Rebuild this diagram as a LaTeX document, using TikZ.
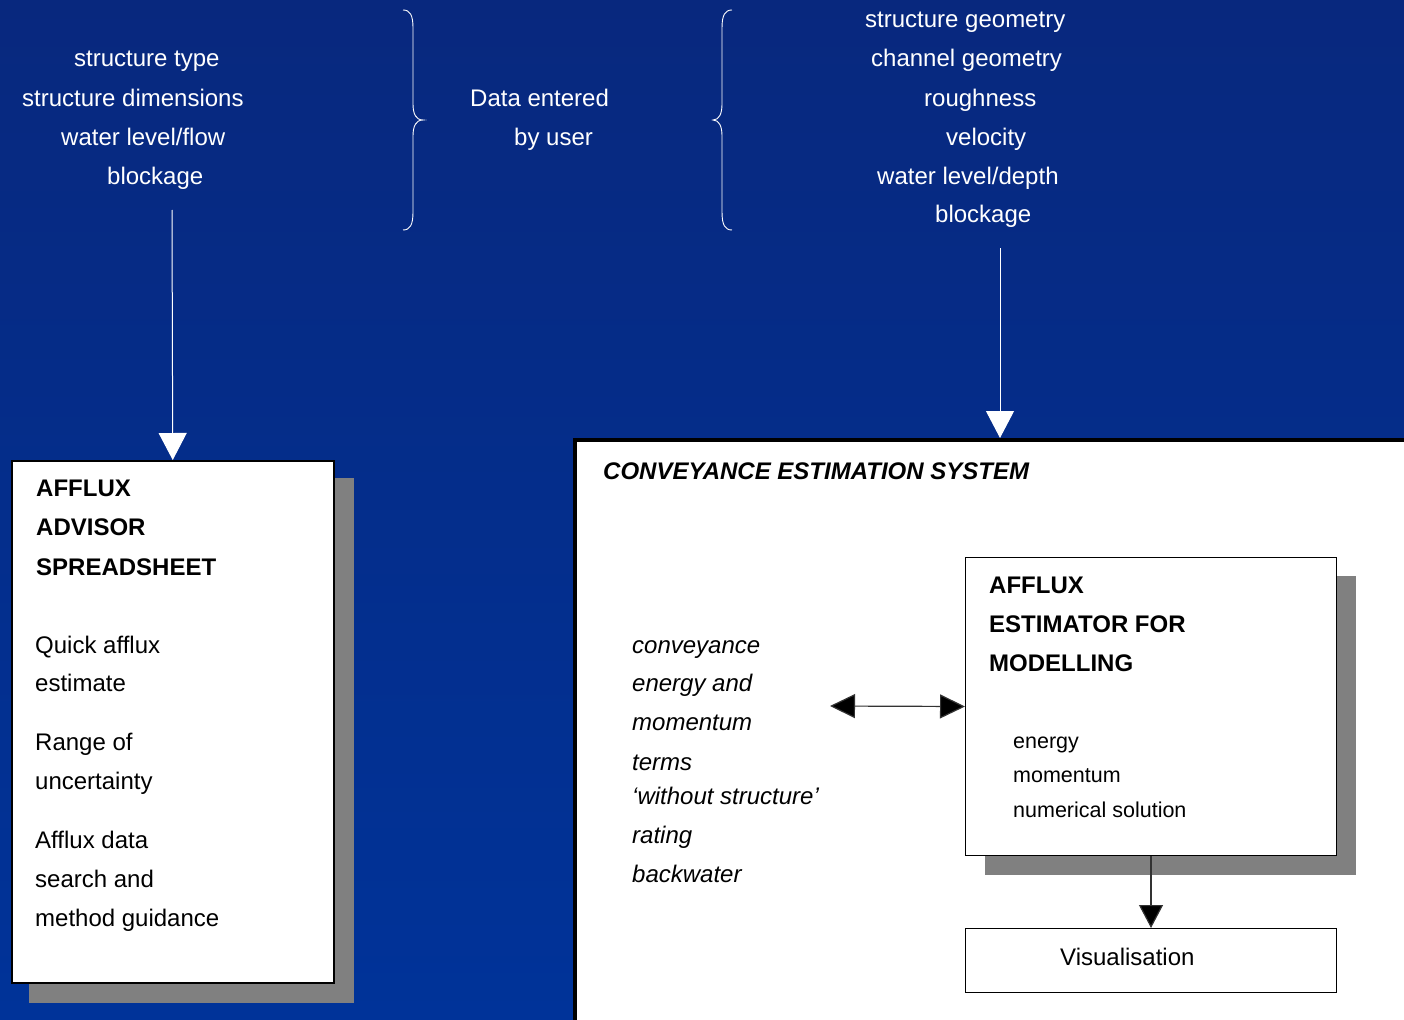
\documentclass[tikz,border=0pt]{standalone}
\usepackage{fontspec}
\setmainfont{Liberation Sans}
\usetikzlibrary{arrows.meta}
\definecolor{bgtop}{RGB}{8,40,126}
\definecolor{bgbot}{RGB}{0,51,153}
\definecolor{shadowgray}{RGB}{128,128,128}
\tikzset{
  wtxt/.style={text=white, font=\fontsize{24}{28}\selectfont, inner sep=0pt, anchor=base west},
  btxt/.style={text=black, font=\fontsize{24}{28}\selectfont, inner sep=0pt, anchor=base west},
  bbold/.style={text=black, font=\fontsize{24}{28}\selectfont\bfseries, inner sep=0pt, anchor=base west},
  bital/.style={text=black, font=\fontsize{24}{28}\selectfont\itshape, inner sep=0pt, anchor=base west},
  bsmall/.style={text=black, font=\fontsize{21.5}{26}\selectfont, inner sep=0pt, anchor=base west},
  boxw/.style={draw=black, fill=white, anchor=north west, inner sep=0pt},
  shadowbox/.style={fill=shadowgray},
  brace/.style={draw=white, line width=0.9pt},
  warrow/.style={draw=white, line width=1pt, -{Triangle[width=28pt,length=27pt,fill=white]}},
  barrow/.style={draw=black!80, line width=1.2pt, -{Triangle[width=24pt,length=23pt,fill=black]}},
  dbarrow/.style={draw=black!80, line width=1.2pt, {Triangle[width=24pt,length=25pt,fill=black]}-{Triangle[width=24pt,length=25pt,fill=black]}}
}
\begin{document}
\begin{tikzpicture}[x=1pt,y=-1pt]
\useasboundingbox (0,0) rectangle (1404,1019);
\clip (0,0) rectangle (1404,1019);
% background
\shade[top color=bgtop, bottom color=bgbot] (0,0) rectangle (1404,1019);

% left input list
\node[wtxt] (l1) at (74,67) {structure type};
\node[wtxt] (l2) at (22,107) {structure dimensions};
\node[wtxt] (l3) at (61,146) {water level/flow};
\node[wtxt] (l4) at (107,184) {blockage};

% middle label
\node[wtxt] (d1) at (470,107) {Data entered};
\node[wtxt] (d2) at (514,146) {by user};

% right input list
\node[wtxt] (r1) at (865,28) {structure geometry};
\node[wtxt] (r2) at (871,67) {channel geometry};
\node[wtxt] (r3) at (924,107) {roughness};
\node[wtxt] (r4) at (946,146) {velocity};
\node[wtxt] (r5) at (877,184) {water level/depth};
\node[wtxt] (r6) at (935,222) {blockage};

% braces
\draw[brace] (403,10) .. controls (410,10) and (413,15) .. (413,28) -- (413,104)
  .. controls (413,114) and (416,120) .. (423,120)
  .. controls (416,120) and (413,126) .. (413,136) -- (413,212)
  .. controls (413,225) and (410,230) .. (403,230);
\draw[brace] (732,10) .. controls (725,10) and (722,15) .. (722,28) -- (722,104)
  .. controls (722,114) and (719,120) .. (713,120)
  .. controls (719,120) and (722,126) .. (722,136) -- (722,212)
  .. controls (722,225) and (725,230) .. (732,230);

% left box (Afflux Advisor Spreadsheet)
\fill[shadowbox] (29,478) rectangle (354,1003);
\node[boxw, line width=1.5pt, minimum width=322pt, minimum height=522pt] (aas) at (11,460) {};
\node[bbold] (a1) at (36,496) {AFFLUX};
\node[bbold] (a2) at (36,535) {ADVISOR};
\node[bbold] (a3) at (36,575) {SPREADSHEET};
\node[btxt] (a4) at (35,653) {Quick afflux};
\node[btxt] (a5) at (35,691) {estimate};
\node[btxt] (a6) at (35,750) {Range of};
\node[btxt] (a7) at (35,789) {uncertainty};
\node[btxt] (a8) at (35,848) {Afflux data};
\node[btxt] (a9) at (35,887) {search and};
\node[btxt] (a10) at (35,926) {method guidance};

% big box (Conveyance Estimation System)
\node[boxw, line width=4pt, minimum width=900pt, minimum height=700pt] (ces) at (573,438) {};
\node[text=black, font=\fontsize{24}{28}\selectfont\bfseries\itshape, inner sep=0pt, anchor=base west] (ct) at (603,479) {CONVEYANCE ESTIMATION SYSTEM};

% italic list
\node[bital] (c1) at (632,653) {conveyance};
\node[bital] (c2) at (632,691) {energy and};
\node[bital] (c3) at (632,730) {momentum};
\node[bital] (c4) at (632,770) {terms};
\node[bital] (c5) at (632,804) {‘without structure’};
\node[bital] (c6) at (632,843) {rating};
\node[bital] (c7) at (632,882) {backwater};

% inner box (Afflux Estimator for Modelling)
\fill[shadowbox] (985,576) rectangle (1356,875);
\node[boxw, line width=1pt, minimum width=371pt, minimum height=298pt] (aem) at (965,557) {};
\node[bbold] (e1) at (989,593) {AFFLUX};
\node[bbold] (e2) at (989,632) {ESTIMATOR FOR};
\node[bbold] (e3) at (989,671) {MODELLING};
\node[bsmall] (e4) at (1013,748) {energy};
\node[bsmall] (e5) at (1013,782) {momentum};
\node[bsmall] (e6) at (1013,817) {numerical solution};

% visualisation box
\node[boxw, line width=1pt, minimum width=371pt, minimum height=64pt] (vis) at (965,928) {};
\node[btxt] (vt) at (1060,965) {Visualisation};

% connectors
\coordinate (la) at (172,210);
\draw[warrow] (la) -- (aas.north);
\coordinate (ra) at (1000,248);
\coordinate (rb) at (1000,438);
\draw[warrow] (ra) -- (rb);
\coordinate (dl) at (830,706);
\draw[dbarrow] (dl) -- (aem.west);
\draw[barrow] (aem.south) -- (vis.north);
\end{tikzpicture}
\end{document}
